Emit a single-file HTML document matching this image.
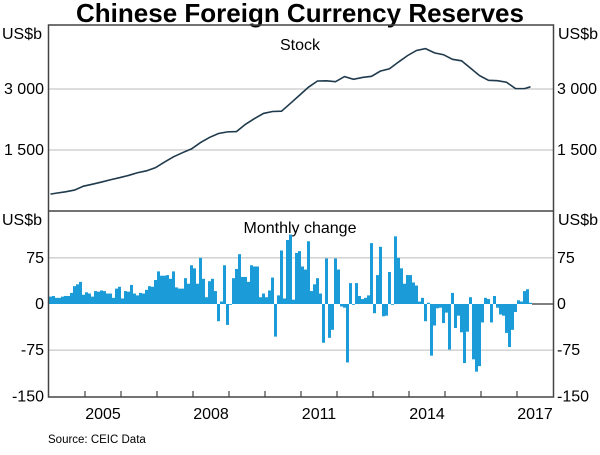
<!DOCTYPE html>
<html><head><meta charset="utf-8"><style>
body{margin:0;background:#fff;}
svg text{font-family:"Liberation Sans",Arial,sans-serif;}
</style></head><body>
<svg id="chart" width="600" height="450" viewBox="0 0 600 450">
<text x="300" y="22" text-anchor="middle" font-size="26" font-weight="bold" fill="#000">Chinese Foreign Currency Reserves</text>
<g id="grid"></g>
<g id="bars"></g>
<path id="stockline" fill="none" stroke="#1f3a4c" stroke-width="1.6"/>
<g id="axes"></g>
<text x="300" y="50" text-anchor="middle" font-size="16">Stock</text>
<text x="300" y="233" text-anchor="middle" font-size="16">Monthly change</text>
<text x="48" y="443" font-size="11.5">Source:   CEIC Data</text>
</svg>
<script>
const stockMonths=[0,2,5,8,11,14,17,20,23,26,29,32,35,38,41,44,47,50,53,56,59,62,65,68,71,74,77,80,83,86,89,92,95,98,101,104,107,110,113,116,119,122,125,128,131,134,137,140,143,146,149,152,155,158,160];
const stockValues=[415,440,471,515,610,659,711,769,819,875,941,988,1066,1202,1333,1434,1528,1682,1809,1906,1946,1954,2132,2273,2399,2447,2454,2648,2847,3045,3197,3202,3181,3305,3240,3285,3312,3442,3497,3663,3821,3948,3993,3888,3843,3730,3694,3514,3330,3213,3205,3166,3011,3009,3054];
const changeValues=[12,13,10,10,12,13,13,18,29,32,36,15,19,17,12,21,20,22,21,17,17,10,25,28,9,21,20,31,17,14,18,17,23,29,28,39,53,46,46,47,41,53,27,25,25,42,33,63,58,33,75,41,11,37,41,21,-28,4,63,-34,-1,42,57,81,44,44,36,63,61,61,11,17,11,22,43,-53,14,87,9,104,113,7,83,86,61,56,102,21,32,42,17,-63,74,-55,-42,74,56,-4,-6,-95,34,0,34,13,8,10,14,99,-15,47,93,-20,-19,52,0,110,75,58,33,47,47,35,30,4,10,-28,2,-84,-35,-7,-6,-31,-14,-74,18,-39,-19,-46,-96,-45,11,-90,-110,-101,-30,10,8,-30,13,-6,-17,-19,-47,-70,-42,-13,6,4,21,24,2];
const topTicks=[1500,3000];
const botTicks=[-150,-75,0,75];
const botGrid=[-75,75];
const yearLabels=["2005","2008","2011","2014","2017"];
const yearTicks=[2005,2006,2007,2008,2009,2010,2011,2012,2013,2014,2015,2016,2017];

const L=49,R=553,T=25,MID=211,B=397,MW=3;
const NS='http://www.w3.org/2000/svg';
const xM=m=>L+m*MW;
const xY=y=>L+(y-2004)*12*MW;
const yTop=v=>MID-v*61/1500;
const yBot=v=>304-v*0.615;
function mk(tag,attrs,parent){const e=document.createElementNS(NS,tag);for(const k in attrs)e.setAttribute(k,attrs[k]);parent.appendChild(e);return e;}
const grid=document.getElementById('grid'),axes=document.getElementById('axes'),bars=document.getElementById('bars');
topTicks.forEach(v=>{const ln=mk('line',{x1:L,x2:R,y1:yTop(v),y2:yTop(v),stroke:'#bbb','stroke-width':1},grid);


const lab=v.toLocaleString('en').replace(',',' ');
const t1=mk('text',{x:44,y:yTop(v)+5,'text-anchor':'end','font-size':16},axes);t1.textContent=lab;


const t2=mk('text',{x:557,y:yTop(v)+5,'font-size':16},axes);t2.textContent=lab;

});
botGrid.forEach(v=>{const ln=mk('line',{x1:L,x2:R,y1:yBot(v),y2:yBot(v),stroke:'#bbb','stroke-width':1},grid);

});
botTicks.forEach(v=>{const lab=String(v);
const t1=mk('text',{x:44,y:yBot(v)+5,'text-anchor':'end','font-size':16},axes);t1.textContent=lab;


const t2=mk('text',{x:557,y:yBot(v)+5,'font-size':16},axes);t2.textContent=lab;

});
changeValues.forEach((v,i)=>{const y0=yBot(0),y1=yBot(v);
const r=mk('rect',{x:xM(i),y:Math.min(y0,y1),width:MW,height:Math.max(0.8,Math.abs(y1-y0)),fill:'#1b9bd7'},bars);

});
const z=mk('line',{x1:xM(changeValues.length),x2:R,y1:yBot(0),y2:yBot(0),stroke:'#555','stroke-width':1.5},axes);


document.getElementById('stockline').setAttribute('d',stockMonths.map((m,i)=>(i?'L':'M')+(xM(m)+1.5)+','+yTop(stockValues[i])).join(''));
const fr=mk('rect',{x:L-0.5,y:T,width:R-L+1,height:B-T,fill:'none',stroke:'#444','stroke-width':1.5},axes);


const dv=mk('line',{x1:L,x2:R,y1:MID,y2:MID,stroke:'#444','stroke-width':1.5},axes);


yearTicks.forEach(y=>{const tk=mk('line',{x1:xY(y),x2:xY(y),y1:B,y2:B-6,stroke:'#444','stroke-width':1.2},axes);

});
yearLabels.forEach(s=>{const t=mk('text',{x:xY(+s)+18,y:419,'text-anchor':'middle','font-size':16},axes);t.textContent=s;

});
[[2,39,'start'],[598,39,'end'],[2,225,'start'],[598,225,'end']].forEach(([x,y,a])=>{const t=mk('text',{x:x,y:y,'text-anchor':a,'font-size':16},axes);t.textContent='US$b';

});
</script>
</body></html>
